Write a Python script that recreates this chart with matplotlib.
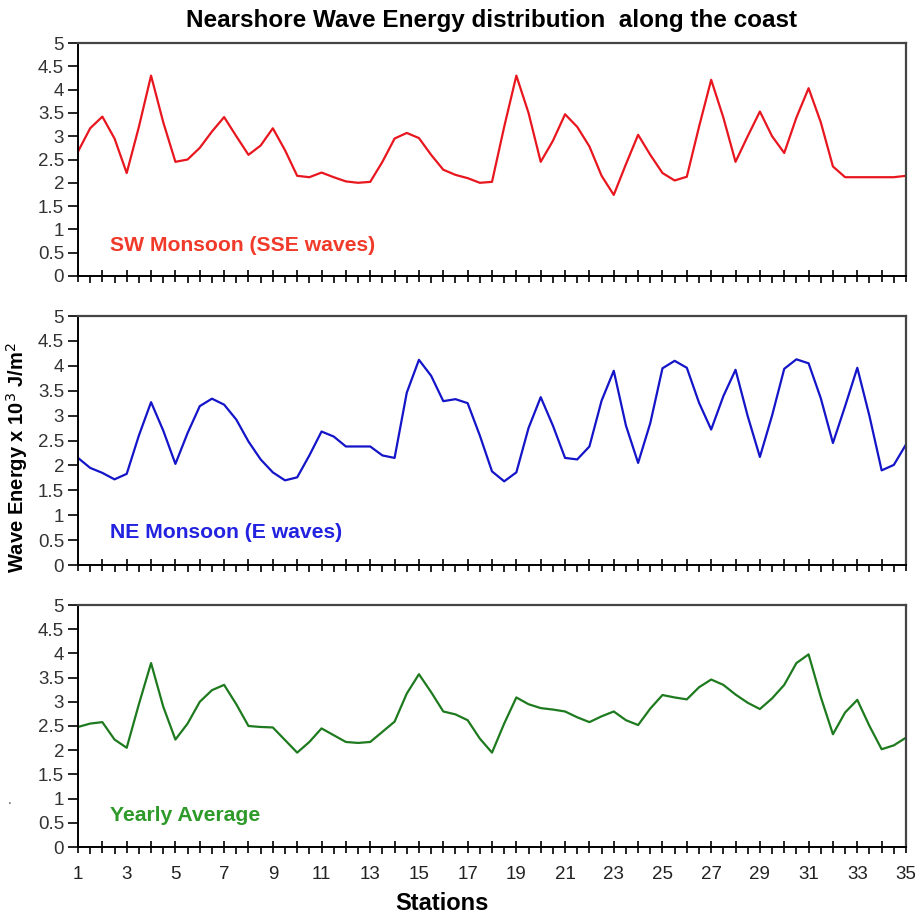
import numpy as np
import matplotlib
matplotlib.use('Agg')
import matplotlib.pyplot as plt

plt.rcParams['font.family'] = ['Liberation Sans', 'DejaVu Sans']

# stations read every half step (1, 1.5, 2, ... 35)
stations = np.arange(1, 35.5, 0.5)

sw_monsoon = [2.67, 3.17, 3.42, 2.95, 2.21, 3.20, 4.30, 3.30, 2.45, 2.50,
              2.75, 3.10, 3.41, 3.00, 2.60, 2.80, 3.17, 2.70, 2.15, 2.12,
              2.22, 2.12, 2.03, 2.00, 2.02, 2.45, 2.95, 3.07, 2.96, 2.60,
              2.28, 2.17, 2.10, 2.00, 2.02, 3.20, 4.30, 3.50, 2.45, 2.90,
              3.47, 3.20, 2.78, 2.15, 1.74, 2.40, 3.03, 2.60, 2.21, 2.05,
              2.13, 3.20, 4.21, 3.40, 2.45, 3.00, 3.53, 3.00, 2.64, 3.40,
              4.03, 3.30, 2.35, 2.12, 2.12, 2.12, 2.12, 2.12, 2.15]

ne_monsoon = [2.15, 1.95, 1.85, 1.72, 1.83, 2.60, 3.27, 2.70, 2.03, 2.65,
              3.19, 3.34, 3.22, 2.92, 2.48, 2.12, 1.86, 1.70, 1.76, 2.20,
              2.68, 2.58, 2.38, 2.38, 2.38, 2.20, 2.15, 3.46, 4.12, 3.80,
              3.29, 3.33, 3.25, 2.60, 1.88, 1.68, 1.86, 2.75, 3.37, 2.80,
              2.15, 2.12, 2.38, 3.30, 3.90, 2.80, 2.05, 2.85, 3.95, 4.10,
              3.96, 3.26, 2.72, 3.39, 3.92, 2.99, 2.17, 3.00, 3.94, 4.13,
              4.05, 3.35, 2.45, 3.19, 3.96, 2.99, 1.90, 2.01, 2.42]

yearly_avg = [2.48, 2.55, 2.58, 2.22, 2.05, 2.95, 3.80, 2.90, 2.22, 2.55,
              3.00, 3.24, 3.35, 2.95, 2.50, 2.48, 2.47, 2.21, 1.95, 2.17,
              2.45, 2.31, 2.17, 2.15, 2.17, 2.38, 2.59, 3.17, 3.57, 3.20,
              2.80, 2.74, 2.62, 2.24, 1.95, 2.55, 3.09, 2.95, 2.87, 2.84,
              2.80, 2.68, 2.58, 2.70, 2.80, 2.62, 2.52, 2.86, 3.14, 3.09,
              3.05, 3.30, 3.46, 3.35, 3.15, 2.98, 2.85, 3.07, 3.35, 3.80,
              3.98, 3.10, 2.33, 2.78, 3.04, 2.50, 2.02, 2.10, 2.26]

panels = [
    (sw_monsoon, '#e8161e', '#f03a2a', 'SW Monsoon (SSE waves)'),
    (ne_monsoon, '#1414c8', '#2222e0', 'NE Monsoon (E waves)'),
    (yearly_avg, '#1e7a1e', '#2e9a2a', 'Yearly Average'),
]

W, H = 919, 915
fig = plt.figure(figsize=(W / 100, H / 100), dpi=100)

# axes boxes in pixels: (top, bottom)
boxes = [(43, 276), (316, 565), (605, 847)]
left, right = 78, 906
yt = np.arange(0, 5.01, 0.5)

for i, ((vals, lc, tc, label), (top, bot)) in enumerate(zip(panels, boxes)):
    ax = fig.add_axes([left / W, 1 - bot / H, (right - left) / W, (bot - top) / H])
    ax.plot(stations, vals, color=lc, lw=1.6, solid_joinstyle='round')
    ax.set_xlim(1, 35)
    ax.set_ylim(0, 5)
    ax.set_yticks(yt)
    ax.set_yticklabels(['{:g}'.format(v) for v in yt])
    ax.set_xticks(np.arange(1, 36, 1))
    ax.set_xticks(np.arange(1.5, 35, 1), minor=True)
    if i == 2:
        ax.set_xticklabels([str(s) if s % 2 == 1 else '' for s in range(1, 36)])
    else:
        ax.set_xticklabels([])
    ax.tick_params(axis='x', which='major', direction='inout', length=8, width=1.2,
                   labelsize=13.5, labelcolor='#222222', pad=10)
    ax.tick_params(axis='x', which='minor', direction='out', length=5, width=1.2)
    ax.tick_params(axis='y', direction='out', length=7, width=1.2,
                   labelsize=13.5, labelcolor='#333333', pad=3)
    for s in ['left', 'bottom']:
        ax.spines[s].set_color('black')
        ax.spines[s].set_linewidth(1.4)
    for s in ['top', 'right']:
        ax.spines[s].set_color('#444444')
        ax.spines[s].set_linewidth(1.6)
    ax.text(2.3, 0.66, label, color=tc, fontsize=15.2, fontweight='bold',
            va='center', ha='left')

fig.text(492 / W, 1 - 20 / H, 'Nearshore Wave Energy distribution  along the coast',
         ha='center', va='center', fontsize=17.5, fontweight='bold')
fig.text(17 / W, 1 - 458 / H, 'Wave Energy x 10$^3$ J/m$^2$', rotation=90,
         ha='center', va='center', fontsize=14.5, fontweight='bold')
fig.text(442 / W, 1 - 903 / H, 'Stations', ha='center', va='center',
         fontsize=17, fontweight='bold')
fig.text(10 / W, 1 - 800 / H, '.', ha='center', va='center', fontsize=10, color='#555555')

fig.savefig('out.png', dpi=100)
